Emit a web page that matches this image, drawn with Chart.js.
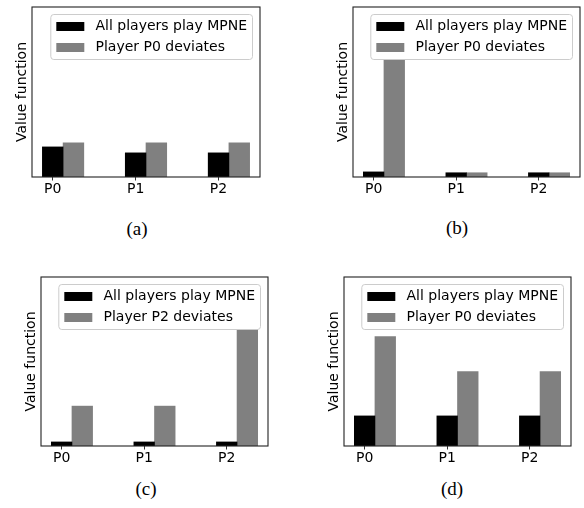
<!DOCTYPE html>
<html><head><meta charset="utf-8">
<script src="https://cdn.jsdelivr.net/npm/chart.js@4/dist/chart.umd.min.js"></script>
<style>
html,body{margin:0;padding:0;background:#fff;}
#wrap{position:relative;width:584px;height:508px;overflow:hidden;background:#fff;}
#wrap canvas{position:absolute;}
.cap{position:absolute;font-family:"Liberation Serif","Times New Roman",serif;font-size:19px;color:#000;transform:translate(-50%,-50%);white-space:nowrap;line-height:1;}
</style></head><body>
<div id="wrap"></div>
<script>
// ---- data ----
const categories = ['P0', 'P1', 'P2'];
const mpneLabel = 'All players play MPNE';
const devLabelA = 'Player P0 deviates';
const devLabelB = 'Player P0 deviates';
const devLabelC = 'Player P2 deviates';
const devLabelD = 'Player P0 deviates';
const mpneA = [17.7, 14.2, 14.2];
const devA  = [20.1, 20.1, 20.1];
const mpneB = [3.0, 2.5, 2.5];
const devB  = [95.2, 2.5, 2.5];
const mpneC = [2.4, 2.4, 2.4];
const devC  = [23.6, 23.6, 95.2];
const mpneD = [17.8, 17.8, 17.8];
const devD  = [64.7, 44.0, 44.0];
const captions = ['(a)', '(b)', '(c)', '(d)'];
const yTitle = 'Value function';
const yMax = 100;
const barWidth = 0.25;

// ---- layout (axes boxes in page pixels) ----
const panels = [
  {L: 32,  T: 7,   R: 260, B: 177, capX: 137, capY: 228},
  {L: 353, T: 7,   R: 580, B: 177, capX: 457, capY: 227},
  {L: 41,  T: 277, R: 268, B: 446, capX: 146, capY: 488},
  {L: 344, T: 277, R: 571, B: 446, capX: 452, capY: 488}
];
const series = [
  [mpneA, devA, devLabelA],
  [mpneB, devB, devLabelB],
  [mpneC, devC, devLabelC],
  [mpneD, devD, devLabelD]
];

const FONT = {family: '"DejaVu Sans", sans-serif', size: 14};

const framePlugin = {
  id: 'frame',
  afterDatasetsDraw(chart) {
    const a = chart.chartArea, ctx = chart.ctx;
    ctx.save();
    ctx.strokeStyle = '#222';
    ctx.lineWidth = 1.1;
    ctx.strokeRect(a.left, a.top, a.right - a.left, a.bottom - a.top);
    ctx.restore();
  }
};

const boxLegend = {
  id: 'boxLegend',
  afterDraw(chart) {
    const ctx = chart.ctx, a = chart.chartArea;
    const fs = 14;
    ctx.save();
    ctx.font = fs + 'px "DejaVu Sans", sans-serif';
    const ds = chart.data.datasets;
    const tw = Math.max(...ds.map(d => ctx.measureText(d.label).width));
    const bp = 5, hl = 28, hp = 11.7, rowH = 14, ls = 7;
    const w = bp + hl + hp + tw + bp + 0.5;
    const h = 2 * bp + ds.length * rowH + (ds.length - 1) * ls;
    const x = a.right - 7.5 - w;
    const y = a.top + 7.5;
    ctx.beginPath();
    ctx.roundRect(x, y, w, h, 3);
    ctx.fillStyle = 'rgba(255,255,255,1)';
    ctx.fill();
    ctx.strokeStyle = '#cccccc';
    ctx.lineWidth = 1;
    ctx.stroke();
    ds.forEach((d, i) => {
      const cy = y + bp + rowH / 2 + i * (rowH + ls);
      ctx.fillStyle = d.backgroundColor;
      ctx.fillRect(x + bp + 0.5, cy - 4.5, hl, 9);
      ctx.fillStyle = '#000';
      ctx.textBaseline = 'middle';
      ctx.textAlign = 'left';
      ctx.fillText(d.label, x + bp + hl + hp, cy);
    });
    ctx.restore();
  }
};

const wrap = document.getElementById('wrap');
const YW = 20, XH = 26, PAD = 2;

panels.forEach((p, k) => {
  const [mpne, dev, devLabel] = series[k];
  const cv = document.createElement('canvas');
  cv.width = p.R - p.L + YW + PAD;
  cv.height = p.B - p.T + PAD + XH;
  cv.style.left = (p.L - YW) + 'px';
  cv.style.top = (p.T - PAD) + 'px';
  wrap.appendChild(cv);

  new Chart(cv, {
    type: 'bar',
    data: {
      datasets: [
        {label: mpneLabel, data: categories.map((c, i) => ({x: i, y: mpne[i]})),
         backgroundColor: '#000000', grouped: false, barPercentage: 1, categoryPercentage: 1},
        {label: devLabel, data: categories.map((c, i) => ({x: i + barWidth, y: dev[i]})),
         backgroundColor: '#808080', grouped: false, barPercentage: 1, categoryPercentage: 1}
      ]
    },
    options: {
      responsive: false,
      animation: false,
      events: [],
      layout: {padding: {top: PAD, right: PAD, left: 0, bottom: 0}},
      plugins: {legend: {display: false}, tooltip: {enabled: false}},
      scales: {
        x: {
          type: 'linear',
          offset: false,
          min: -barWidth,
          max: categories.length - 1 + 2 * barWidth,
          afterBuildTicks: s => { s.ticks = categories.map((c, i) => ({value: i})); },
          ticks: {callback: v => categories[v], font: FONT, color: '#000', padding: 0,
                  maxRotation: 0, autoSkip: false},
          grid: {offset: false, drawOnChartArea: false, tickLength: 3.5, tickColor: '#333', lineWidth: 1},
          border: {display: false},
          afterFit: s => { s.height = XH; }
        },
        y: {
          min: 0,
          max: yMax,
          ticks: {display: false},
          grid: {display: false},
          border: {display: false},
          title: {display: true, text: yTitle, font: FONT, color: '#000', padding: {top: 1.8, bottom: 0}},
          afterFit: s => { s.width = YW; }
        }
      }
    },
    plugins: [framePlugin, boxLegend]
  });

  const cap = document.createElement('div');
  cap.className = 'cap';
  cap.textContent = captions[k];
  cap.style.left = p.capX + 'px';
  cap.style.top = p.capY + 'px';
  wrap.appendChild(cap);
});
</script>
</body></html>
